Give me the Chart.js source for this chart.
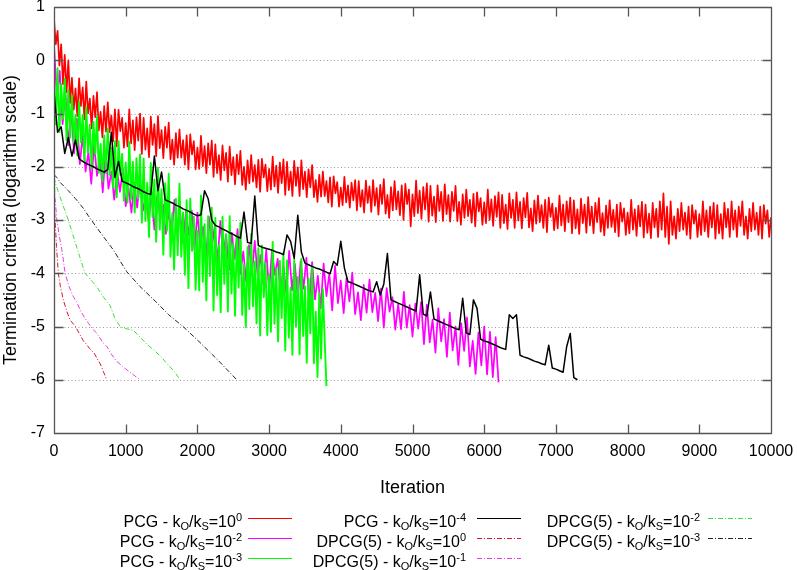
<!DOCTYPE html>
<html><head><meta charset="utf-8">
<script src="https://cdn.jsdelivr.net/npm/chart.js@4/dist/chart.umd.min.js"></script>
<style>html,body{margin:0;padding:0;background:#fff;}canvas{display:block;}</style>
</head><body>
<canvas id="c" width="797" height="570"></canvas>
<script>
// ---------- data ----------
const xTickValues = [0,1000,2000,3000,4000,5000,6000,7000,8000,9000,10000];
const yTickValues = [1,0,-1,-2,-3,-4,-5,-6,-7];

// PCG - kO/kS=10^0  (one value every 25 iterations)
const pcg0Step = 25;
const pcg0 = [0.78,0.3,0.55,-0.1,0.3,-0.45,0.1,-0.6,0.0,-0.8,
-0.33,-0.93,-0.53,-1.05,-0.34,-0.86,-0.51,-1.11,-0.4,-1.0,
-0.72,-1.28,-0.67,-1.07,-0.6,-1.32,-0.97,-1.45,-0.86,-1.34,
-0.79,-1.35,-1.04,-1.52,-0.92,-1.62,-0.93,-1.33,-1.08,-1.64,
-1.18,-1.62,-0.92,-1.56,-1.13,-1.69,-1.07,-1.51,-1.0,-1.76,
-1.08,-1.68,-1.28,-1.82,-1.06,-1.59,-1.2,-1.8,-1.05,-1.65,
-1.31,-1.84,-1.25,-1.64,-1.17,-1.86,-1.49,-1.96,-1.37,-1.83,
-1.3,-1.83,-1.5,-1.96,-1.41,-2.05,-1.39,-1.77,-1.52,-2.05,
-1.64,-2.04,-1.42,-1.99,-1.61,-2.12,-1.56,-1.96,-1.51,-2.19,
-1.58,-2.12,-1.78,-2.25,-1.6,-2.07,-1.74,-2.28,-1.62,-2.16,
-1.82,-2.33,-1.77,-2.14,-1.7,-2.34,-2.0,-2.43,-1.88,-2.31,
-1.78,-2.28,-1.97,-2.39,-1.87,-2.47,-1.85,-2.2,-1.96,-2.46,
-2.04,-2.43,-1.81,-2.37,-1.98,-2.49,-1.92,-2.31,-1.86,-2.53,
-1.91,-2.44,-2.09,-2.55,-1.89,-2.36,-2.01,-2.55,-1.88,-2.42,
-2.09,-2.57,-2.05,-2.39,-1.97,-2.57,-2.25,-2.66,-2.15,-2.56,
-2.09,-2.55,-2.27,-2.67,-2.2,-2.75,-2.18,-2.5,-2.29,-2.75,
-2.39,-2.72,-2.19,-2.67,-2.35,-2.77,-2.3,-2.63,-2.25,-2.82,
-2.27,-2.75,-2.44,-2.86,-2.26,-2.68,-2.37,-2.85,-2.25,-2.73,
-2.4,-2.9,-2.34,-2.7,-2.23,-2.88,-2.53,-2.96,-2.38,-2.82,
-2.27,-2.8,-2.46,-2.91,-2.35,-3.0,-2.32,-2.7,-2.43,-3.12,
-2.52,-2.93,-2.26,-2.87,-2.45,-2.98,-2.38,-2.8,-2.31,-3.03,
-2.36,-2.92,-2.56,-3.04,-2.35,-2.83,-2.47,-3.02,-2.33,-2.89,
-2.53,-3.03,-2.47,-2.83,-2.36,-3.02,-2.66,-3.09,-2.52,-2.96,
-2.43,-2.93,-2.62,-3.05,-2.51,-3.12,-2.48,-2.84,-2.59,-3.09,
-2.67,-3.06,-2.43,-3.0,-2.61,-3.11,-2.55,-2.94,-2.48,-3.15,
-2.53,-3.06,-2.71,-3.17,-2.5,-2.96,-2.62,-3.15,-2.48,-3.01,
-2.66,-3.16,-2.59,-2.95,-2.49,-3.14,-2.78,-3.21,-2.63,-3.07,
-2.54,-3.04,-2.72,-3.15,-2.62,-3.23,-2.58,-2.94,-2.69,-3.19,
-2.77,-3.16,-2.54,-3.1,-2.71,-3.21,-2.65,-3.04,-2.58,-3.25,
-2.63,-3.16,-2.8,-3.26,-2.6,-3.06,-2.71,-3.24,-2.57,-3.1,
-2.75,-3.25,-2.68,-3.04,-2.59,-3.22,-2.87,-3.29,-2.73,-3.15,
-2.63,-3.13,-2.81,-3.23,-2.71,-3.31,-2.68,-3.03,-2.78,-3.28,
-2.86,-3.25,-2.62,-3.18,-2.8,-3.3,-2.73,-3.12,-2.66,-3.33,
-2.71,-3.24,-2.88,-3.34,-2.68,-3.14,-2.79,-3.32,-2.65,-3.18,
-2.5,-3.32,-2.75,-3.45,-2.65,-3.28,-2.93,-3.35,-2.79,-3.21,
-2.68,-3.18,-2.86,-3.28,-2.75,-3.35,-2.72,-3.07,-2.82,-3.32,
-2.89,-3.28,-2.65,-3.21,-2.82,-3.32,-2.75,-3.14,-2.68,-3.35,
-2.72,-3.25,-2.89,-3.35,-2.68,-3.14,-2.79,-3.32,-2.65,-3.18,
-2.82,-3.32,-2.75,-3.11,-2.65,-3.28,-2.93,-3.35,-2.79,-3.21,
-2.68,-3.18,-2.86,-3.28,-2.75,-3.35,-2.72,-3.07,-2.82,-3.32,
-2.95];

// PCG - kO/kS=10^-2 (one value every 40 iterations)
const pcg2Step = 40;
const pcg2 = [0.3,-0.7,-0.2,-1.2,-0.6,-1.6,-0.95,-1.75,-1.1,-1.95,
-1.41,-2.09,-1.72,-2.32,-1.57,-2.17,-1.8,-2.48,-1.73,-2.41,
-2.09,-2.62,-2.08,-2.47,-2.04,-2.74,-2.41,-2.86,-2.3,-2.77,
-2.26,-2.83,-2.53,-3.02,-2.49,-3.18,-2.54,-2.95,-2.71,-3.26,
-2.84,-3.27,-2.62,-3.26,-2.87,-3.43,-2.84,-3.28,-2.82,-3.56,
-2.86,-3.52,-3.13,-3.71,-2.94,-3.52,-3.13,-3.79,-3.02,-3.68,
-3.27,-3.94,-3.24,-3.73,-3.17,-4.01,-3.59,-4.16,-3.47,-4.04,
-3.39,-4.05,-3.66,-4.22,-3.56,-4.35,-3.56,-4.03,-3.73,-4.39,
-3.86,-4.38,-3.58,-4.32,-3.83,-4.49,-3.77,-4.29,-3.71,-4.59,
-3.79,-4.49,-4.05,-4.66,-3.82,-4.43,-4.0,-4.7,-3.86,-4.56,
-4.14,-4.75,-4.09,-4.53,-3.99,-4.77,-4.36,-4.88,-4.22,-4.74,
-4.12,-4.73,-4.37,-4.9,-4.29,-5.02,-4.28,-4.72,-4.45,-5.06,
-4.58,-5.05,-4.35,-5.02,-4.6,-5.19,-4.57,-5.04,-4.54,-5.33,
-4.59,-5.3,-4.87,-5.49,-4.66,-5.28,-4.86,-5.57,-4.74,-5.45,
-5.0,-5.72,-4.94,-5.46,-4.83,-5.75,-5.27,-5.89,-5.11,-5.73,
-5.0,-5.9,-5.1,-5.95,-5.2,-6.05];

// PCG - kO/kS=10^-3 (one value every 25 iterations)
const pcg3Step = 25;
const pcg3 = [-0.3,-1.2,-0.15,-1.35,-0.45,-1.1,-0.35,-1.5,-0.55,-1.45,
-0.66,-1.54,-1.03,-1.79,-0.78,-1.54,-1.03,-1.9,-0.88,-1.73,
-1.21,-2.04,-1.16,-1.76,-1.05,-2.11,-1.57,-2.28,-1.41,-2.12,
-1.28,-2.15,-1.64,-2.39,-1.52,-2.57,-1.52,-2.15,-1.76,-2.64,
-1.92,-2.67,-1.53,-2.6,-1.91,-2.86,-1.84,-2.59,-1.77,-3.05,
-1.85,-3.02,-2.3,-3.32,-1.93,-2.95,-2.24,-3.41,-2.02,-3.18,
-2.42,-3.65,-2.31,-3.2,-2.13,-3.69,-2.87,-3.93,-2.6,-3.66,
-2.32,-3.69,-2.86,-4.03,-2.63,-4.28,-2.6,-3.58,-2.94,-4.31,
-3.2,-4.32,-2.54,-4.16,-3.08,-4.51,-2.93,-4.05,-2.77,-4.7,
-2.96,-4.41,-3.47,-4.73,-2.94,-4.2,-3.27,-4.72,-2.93,-4.38,
-3.44,-4.8,-3.29,-4.27,-3.05,-4.78,-3.85,-5.01,-3.51,-4.67,
-3.26,-4.62,-3.78,-4.94,-3.53,-5.17,-3.48,-4.45,-3.8,-5.16,
-4.03,-5.1,-3.41,-4.95,-3.92,-5.28,-3.77,-4.84,-3.62,-5.45,
-3.76,-5.21,-4.27,-5.53,-3.74,-5.0,-4.07,-5.52,-3.73,-5.18,
-4.25,-5.68,-4.1,-5.13,-3.86,-5.69,-4.72,-5.95,-4.37,-5.6,
-4.3,-5.25,-6.12];

// PCG - kO/kS=10^-4 (one value every 50 iterations)
const pcg4Step = 50;
const pcg4 = [-0.6,-1.35,-1.25,-1.75,-1.45,-1.8,-1.5,-1.85,-1.9,-1.94,
-1.97,-2.0,-2.04,-2.07,-2.1,-2.05,-1.35,-2.2,-1.9,-2.27,
-2.3,-2.33,-2.37,-2.4,-2.43,-2.47,-2.5,-2.52,-1.8,-2.45,
-2.1,-2.62,-2.65,-2.68,-2.72,-2.75,-2.79,-2.82,-2.85,-2.89,
-2.92,-2.9,-2.45,-2.6,-3.0,-3.1,-3.13,-3.17,-3.2,-3.24,
-3.27,-3.31,-3.34,-2.85,-3.42,-3.44,-2.55,-3.48,-3.51,-3.53,
-3.55,-3.57,-3.6,-3.62,-3.65,-3.28,-3.4,-3.72,-2.91,-3.6,
-3.81,-3.84,-3.87,-3.9,-3.92,-3.95,-3.98,-4.01,-3.78,-3.85,
-3.4,-3.9,-4.16,-4.18,-4.21,-4.24,-4.27,-4.3,-4.33,-4.35,
-4.16,-4.41,-4.2,-3.63,-4.5,-4.53,-4.56,-4.59,-4.62,-4.65,
-4.68,-4.71,-4.03,-4.77,-4.8,-4.35,-4.86,-4.89,-4.92,-4.95,
-4.98,-5.01,-5.04,-5.06,-4.47,-5.12,-5.15,-4.5,-4.66,-5.24,
-5.27,-5.29,-5.32,-5.35,-5.38,-5.41,-5.43,-4.78,-4.85,-4.78,
-5.54,-5.57,-5.59,-5.62,-5.65,-5.67,-5.7,-5.72,-5.35,-5.78,
-5.8,-5.83,-5.86,-5.38,-5.13,-5.96,-6.0];

// DPCG(5) series: iteration / value pairs
const dpcg0Iter = [0,5,15,35,60,90,130,180,225,250,300,360,410,450,500,560,600,645,690,735];
const dpcg0Val  = [-2.3,-2.75,-3.0,-3.5,-4.0,-4.25,-4.5,-4.72,-4.88,-4.92,-5.0,-5.15,-5.27,-5.33,-5.42,-5.5,-5.6,-5.7,-5.85,-6.0];
const dpcg1Iter = [0,15,40,80,110,155,210,270,320,365,420,480,540,600,680,740,790,870,960,1020,1100,1200];
const dpcg1Val  = [-2.2,-2.6,-3.0,-3.35,-3.56,-4.0,-4.25,-4.44,-4.55,-4.69,-4.82,-4.94,-5.05,-5.13,-5.3,-5.38,-5.5,-5.65,-5.75,-5.82,-5.9,-6.0];
const dpcg2Iter = [0,30,80,140,200,280,350,432,510,596,690,781,850,921,1000,1106,1200,1293,1400,1500,1572,1680,1760];
const dpcg2Val  = [-2.2,-2.35,-2.55,-2.78,-3.0,-3.35,-3.65,-4.0,-4.12,-4.25,-4.45,-4.6,-4.85,-5.0,-5.04,-5.07,-5.2,-5.33,-5.45,-5.58,-5.69,-5.85,-6.0];
const dpcg3Iter = [0,40,90,200,300,409,478,600,827,1014,1200,1432,1600,1800,2036,2300,2548];
const dpcg3Val  = [-2.15,-2.2,-2.3,-2.45,-2.6,-2.78,-2.92,-3.15,-3.56,-3.97,-4.25,-4.55,-4.78,-5.0,-5.3,-5.65,-6.0];

// legend labels: method name and exponent of kO/kS
const seriesMethods   = ['PCG','PCG','PCG','PCG','DPCG(5)','DPCG(5)','DPCG(5)','DPCG(5)'];
const seriesExponents = ['0','-2','-3','-4','0','-1','-2','-3'];

// ---------- styles ----------
const seriesColors = ['#ff0000','#ff00ff','#00ff00','#000000','#dd1133','#e040e0','#3ddc3d','#222222'];
const seriesDash   = [[],[],[],[],[5,2,1,2],[5,2,1,2],[5,2,1,2],[5,2,1,2]];
const seriesWidth  = [1.7,1.7,1.9,1.5,1,1,1,1];

function stepped(vals, step){ return vals.map((v,i)=>({x:i*step, y:v})); }
function paired(xs, ys){ return xs.map((x,i)=>({x:x, y:ys[i]})); }

const seriesData = [
  stepped(pcg0, pcg0Step), stepped(pcg2, pcg2Step), stepped(pcg3, pcg3Step), stepped(pcg4, pcg4Step),
  paired(dpcg0Iter, dpcg0Val), paired(dpcg1Iter, dpcg1Val), paired(dpcg2Iter, dpcg2Val), paired(dpcg3Iter, dpcg3Val)
];

const FONT = '"Liberation Sans", Arial, Helvetica, sans-serif';
const AREA = {left:54, top:7, right:771, bottom:433};

const datasets = seriesData.map((d,i)=>({
  label: seriesMethods[i] + ' - kO/kS=10^' + seriesExponents[i],
  data: d,
  borderColor: seriesColors[i],
  backgroundColor: seriesColors[i],
  borderWidth: seriesWidth[i],
  borderDash: seriesDash[i],
  borderJoinStyle: 'round',
  pointRadius: 0,
  tension: 0,
  fill: false,
  order: 20 - i
}));

// grid, frame and inward ticks, gnuplot style
const framePlugin = {
  id: 'frame',
  beforeDatasetsDraw(chart){
    const {ctx, chartArea:a, scales:{y}} = chart;
    ctx.save();
    ctx.strokeStyle = '#9a9a9a';
    ctx.lineWidth = 1;
    ctx.setLineDash([1,2.5]);
    y.ticks.forEach(t=>{
      if (t.value === y.min || t.value === y.max) return;
      const py = Math.round(y.getPixelForValue(t.value)) + 0.5;
      ctx.beginPath(); ctx.moveTo(a.left, py); ctx.lineTo(a.right, py); ctx.stroke();
    });
    ctx.restore();
  },
  afterDatasetsDraw(chart){
    const {ctx, chartArea:a, scales:{x,y}} = chart;
    const L = Math.round(a.left)+0.5, R = Math.round(a.right)+0.5, T = Math.round(a.top)+0.5, B = Math.round(a.bottom)+0.5;
    ctx.save();
    ctx.strokeStyle = '#555555';
    ctx.lineWidth = 1.3;
    ctx.setLineDash([]);
    ctx.beginPath();
    ctx.rect(L, T, R-L, B-T);
    const tl = 9;
    x.ticks.forEach(t=>{
      if (t.value === x.min || t.value === x.max) return;
      const px = Math.round(x.getPixelForValue(t.value))+0.5;
      ctx.moveTo(px, B); ctx.lineTo(px, B - tl);
      ctx.moveTo(px, T); ctx.lineTo(px, T + tl);
    });
    y.ticks.forEach(t=>{
      if (t.value === y.min || t.value === y.max) return;
      const py = Math.round(y.getPixelForValue(t.value))+0.5;
      ctx.moveTo(L, py); ctx.lineTo(L + tl, py);
      ctx.moveTo(R, py); ctx.lineTo(R - tl, py);
    });
    ctx.stroke();
    ctx.restore();
  }
};

// legend with sub/superscripts
const legendPlugin = {
  id: 'gpLegend',
  afterDraw(chart){
    const ctx = chart.ctx;
    const base = 16, small = 11;
    const colTextRight = [242, 466, 700];
    const colLineStart = [248, 477, 708];
    const lineLen = 44;
    const rowBase = [527, 547, 567];
    const rowLine = [518, 538, 558];
    ctx.save();
    ctx.textBaseline = 'alphabetic';
    seriesMethods.forEach((m,i)=>{
      const col = Math.floor(i/3), row = i%3;
      const pieces = [
        {t: m + ' - k', f: base, dy: 0},
        {t: 'O', f: small, dy: 3},
        {t: '/k', f: base, dy: 0},
        {t: 'S', f: small, dy: 3},
        {t: '=10', f: base, dy: 0},
        {t: seriesExponents[i], f: small, dy: -6}
      ];
      let w = 0;
      pieces.forEach(p=>{ ctx.font = p.f + 'px ' + FONT; p.w = ctx.measureText(p.t).width; w += p.w; });
      let xx = colTextRight[col] - w;
      ctx.fillStyle = '#000';
      pieces.forEach(p=>{ ctx.font = p.f + 'px ' + FONT; ctx.fillText(p.t, xx, rowBase[row] + p.dy); xx += p.w; });
      ctx.strokeStyle = seriesColors[i];
      ctx.lineWidth = 1;
      ctx.setLineDash(seriesDash[i]);
      const ly = rowLine[row] + 0.5;
      ctx.beginPath(); ctx.moveTo(colLineStart[col], ly); ctx.lineTo(colLineStart[col] + lineLen, ly); ctx.stroke();
    });
    ctx.restore();
  }
};

const config = {
  type: 'line',
  data: { datasets },
  plugins: [framePlugin, legendPlugin],
  options: {
    responsive: false,
    animation: false,
    devicePixelRatio: 1,
    layout: { padding: { top: AREA.top, right: 797 - AREA.right, left: 0, bottom: 0 } },
    plugins: { legend: { display: false }, tooltip: { enabled: false } },
    scales: {
      x: {
        type: 'linear', min: 0, max: 10000,
        afterBuildTicks(s){ s.ticks = xTickValues.map(v=>({value:v})); },
        afterFit(s){ s.height = 570 - AREA.bottom; s.paddingLeft = 0; s.paddingRight = 0; s.paddingTop = 0; s.paddingBottom = 0; },
        grid: { display: false, drawTicks: false },
        border: { display: false },
        ticks: { color: '#000', font: { family: FONT, size: 16 }, padding: 9, maxRotation: 0, autoSkip: false, callback: v => String(v) },
        title: { display: true, text: 'Iteration', color: '#000', font: { family: FONT, size: 18 }, padding: { top: 0, bottom: 71 } }
      },
      y: {
        type: 'linear', min: -7, max: 1,
        afterBuildTicks(s){ s.ticks = yTickValues.map(v=>({value:v})); },
        afterFit(s){ s.width = AREA.left; s.paddingLeft = 0; s.paddingRight = 0; s.paddingTop = 0; s.paddingBottom = 0; },
        grid: { display: false, drawTicks: false },
        border: { display: false },
        ticks: { color: '#000', font: { family: FONT, size: 16 }, padding: 9, autoSkip: false, callback: v => String(v) },
        title: { display: true, text: 'Termination criteria (logarithm scale)', color: '#000', font: { family: FONT, size: 18 }, padding: { top: 0, bottom: 0 } }
      }
    }
  }
};

const chart = new Chart(document.getElementById('c'), config);
</script>
</body></html>
